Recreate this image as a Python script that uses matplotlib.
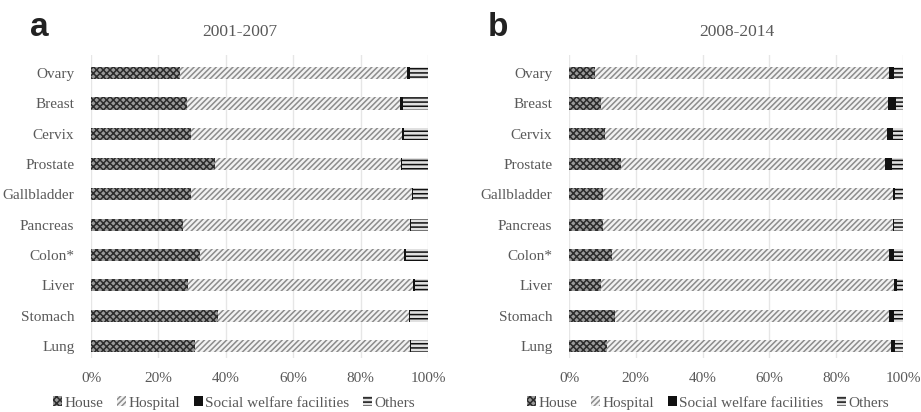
import numpy as np
import matplotlib.pyplot as plt
from matplotlib.patches import Patch

plt.rcParams['font.family'] = ['Liberation Serif', 'DejaVu Serif']
plt.rcParams['hatch.linewidth'] = 1.1

# categories, top to bottom as drawn
cancers = ["Ovary", "Breast", "Cervix", "Prostate", "Gallbladder",
           "Pancreas", "Colon*", "Liver", "Stomach", "Lung"]

# 2001-2007 (percent of deaths by place)
house_a = [26.4, 28.4, 29.7, 36.8, 29.7, 27.2, 32.3, 28.9, 37.6, 30.9]
hospital_a = [67.3, 63.3, 62.7, 55.2, 65.5, 67.5, 60.7, 66.7, 56.7, 63.8]
welfare_a = [0.9, 1.0, 0.5, 0.4, 0.3, 0.2, 0.5, 0.4, 0.5, 0.3]

# 2008-2014
house_b = [7.8, 9.5, 10.8, 15.6, 10.1, 10.1, 12.8, 9.5, 13.8, 11.3]
hospital_b = [88.1, 85.9, 84.5, 79.0, 86.8, 86.8, 83.1, 87.9, 82.1, 85.1]
welfare_b = [1.5, 2.4, 1.8, 2.0, 0.7, 0.5, 1.5, 0.7, 1.4, 1.2]

labels = ["House", "Hospital", "Social welfare facilities", "Others"]
txt = '#595959'

styles = [
    dict(facecolor='#9a9a9a', edgecolor='#2b2b2b', hatch='xxxxx'),
    dict(facecolor='#f2f2f2', edgecolor='#8c8c8c', hatch='//////'),
    dict(facecolor='#111111', edgecolor='#111111', hatch=None),
    dict(facecolor='#e0e0e0', edgecolor='#111111', hatch='----'),
]


def draw(ax, house, hosp, welf, title, tx, lx):
    house = np.array(house)
    hosp = np.array(hosp)
    welf = np.array(welf)
    others = 100 - house - hosp - welf
    y = np.arange(len(cancers))
    left = np.zeros(len(cancers))
    for vals, st in zip([house, hosp, welf, others], styles):
        ax.barh(y, vals, left=left, height=0.4, linewidth=0, **st)
        left = left + vals
    ax.set_yticks(y)
    ax.set_yticklabels(cancers, fontsize=11, color=txt)
    ax.set_xlim(0, 100)
    ax.set_ylim(len(cancers) - 0.6, -0.6)
    ax.set_xticks(np.arange(0, 101, 20))
    ax.set_xticklabels([f"{v}%" for v in range(0, 101, 20)], fontsize=11, color=txt)
    ax.tick_params(length=0, pad=12)
    ax.tick_params(axis='x', pad=10)
    ax.grid(axis='x', color='#e6e6e6', linewidth=1)
    ax.set_axisbelow(True)
    for s in ax.spines.values():
        s.set_visible(False)
    handles = [Patch(label=l, linewidth=0, **st) for l, st in zip(labels, styles)]
    fig.legend(handles=handles, loc='center', bbox_to_anchor=(lx, 1 - 403 / 412),
               ncol=4, frameon=False, fontsize=11, handlelength=0.6, handleheight=0.6,
               handletextpad=0.15, columnspacing=0.9, labelcolor=txt, borderpad=0)
    fig.text(tx, 1 - 32 / 412, title, fontsize=12.5, color=txt, ha='center', va='center')


fig = plt.figure(figsize=(9.21, 4.12), dpi=100)
ax1 = fig.add_axes([91 / 921, 1 - 358 / 412, 337 / 921, 303 / 412])
ax2 = fig.add_axes([569 / 921, 1 - 358 / 412, 334 / 921, 303 / 412])

draw(ax1, house_a, hospital_a, welfare_a, "2001-2007", 240 / 921, 234 / 921)
draw(ax2, house_b, hospital_b, welfare_b, "2008-2014", 737 / 921, 708 / 921)

fig.text(30 / 921, 1 - 27 / 412, "a", fontsize=24, fontweight='bold', family='Liberation Sans',
         color='#222222', ha='left', va='center')
fig.text(488 / 921, 1 - 27 / 412, "b", fontsize=24, fontweight='bold', family='Liberation Sans',
         color='#222222', ha='left', va='center')

fig.savefig("out.png", dpi=100)
